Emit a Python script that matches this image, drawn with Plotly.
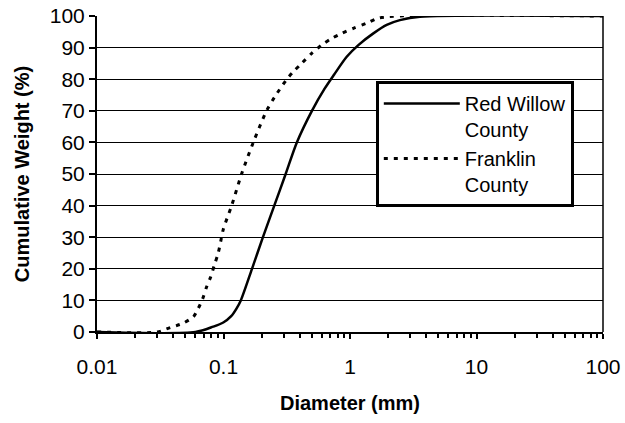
import plotly.graph_objects as go

# Data (diameter in mm, cumulative weight in %)
rw_d = [0.01, 0.06, 0.083, 0.0996, 0.115, 0.127, 0.137, 0.168, 0.205, 0.252, 0.31, 0.38, 0.5,
        0.63, 0.75, 0.942, 1.164, 1.53, 1.95, 2.48, 3.57, 100]
rw_w = [0, 0, 1.7, 3.0, 5.0, 7.5, 10, 20, 30, 40, 50, 60, 70,
        77, 81.5, 87.1, 90.8, 94.5, 97.2, 98.7, 99.8, 100]

fr_d = [0.01, 0.03, 0.0355, 0.048, 0.0578, 0.0614, 0.0684, 0.0736, 0.0793, 0.0847, 0.0907,
        0.095, 0.0996, 0.116, 0.139, 0.172, 0.219, 0.255, 0.317, 0.357, 0.415, 0.498, 0.597,
        0.716, 0.859, 1.064, 1.35, 1.67, 2.48, 100]
fr_w = [0, 0, 1, 2.8, 4.8, 6.5, 10.5, 14.3, 17.5, 21.2, 24.9,
        28.6, 32.5, 40, 50, 60, 70, 74.5, 80, 82.4, 85, 88.2, 90.8,
        92.9, 94.5, 96.1, 97.7, 99.3, 100, 100]

x_ticks = [0.01, 0.1, 1, 10, 100]
x_ticktext = ["0.01", "0.1", "1", "10", "100"]
y_ticks = [0, 10, 20, 30, 40, 50, 60, 70, 80, 90, 100]

minor_vals = [m * 10 ** e for e in range(-2, 2) for m in range(2, 10)]

FONT = "Liberation Sans, Arial, sans-serif"

fig = go.Figure()
fig.add_trace(go.Scatter(x=rw_d, y=rw_w, mode="lines", name="Red Willow<br>County",
                         line=dict(color="black", width=2.5, shape="spline", smoothing=0.8)))
fig.add_trace(go.Scatter(x=fr_d, y=fr_w, mode="lines", name="Franklin<br>County",
                         line=dict(color="black", width=3, dash="4px,6px", shape="spline", smoothing=0.8)))

fig.update_layout(
    width=625, height=423,
    margin=dict(l=97, r=22, t=16, b=91),
    paper_bgcolor="white", plot_bgcolor="white",
    font=dict(family=FONT, size=21, color="black"),
    showlegend=True,
    legend=dict(x=0.551, y=0.794, xanchor="left", yanchor="top",
                bordercolor="black", borderwidth=3, bgcolor="white",
                font=dict(size=20, family=FONT), valign="top",
                itemwidth=76, tracegroupgap=0),
    xaxis=dict(type="log", range=[-2, 2], tickvals=x_ticks, ticktext=x_ticktext,
               ticks="outside", ticklen=5, tickwidth=2, tickcolor="black",
               showline=True, linecolor="black", linewidth=2,
               showgrid=False, zeroline=False, automargin=False,
               ticklabelstandoff=10,
               minor=dict(tickvals=minor_vals, ticks="outside", ticklen=4, tickwidth=1.5,
                          tickcolor="black", showgrid=False),
               title=dict(text="<b>Diameter (mm)</b>", font=dict(size=20, family=FONT), standoff=19),
               tickfont=dict(size=21)),
    yaxis=dict(range=[0, 100], tickvals=y_ticks, ticks="outside", ticklen=6, tickwidth=2,
               tickcolor="black", showline=True, linecolor="black", linewidth=2,
               showgrid=True, gridcolor="black", gridwidth=1, zeroline=False, automargin=False,
               title=dict(text="<b>Cumulative Weight (%)</b>", font=dict(size=20, family=FONT), standoff=15),
               tickfont=dict(size=21)),
    shapes=[dict(type="line", xref="paper", yref="paper", x0=1, x1=1, y0=0, y1=1,
                 line=dict(color="black", width=1.5))],
)

fig.write_html("out.html")
